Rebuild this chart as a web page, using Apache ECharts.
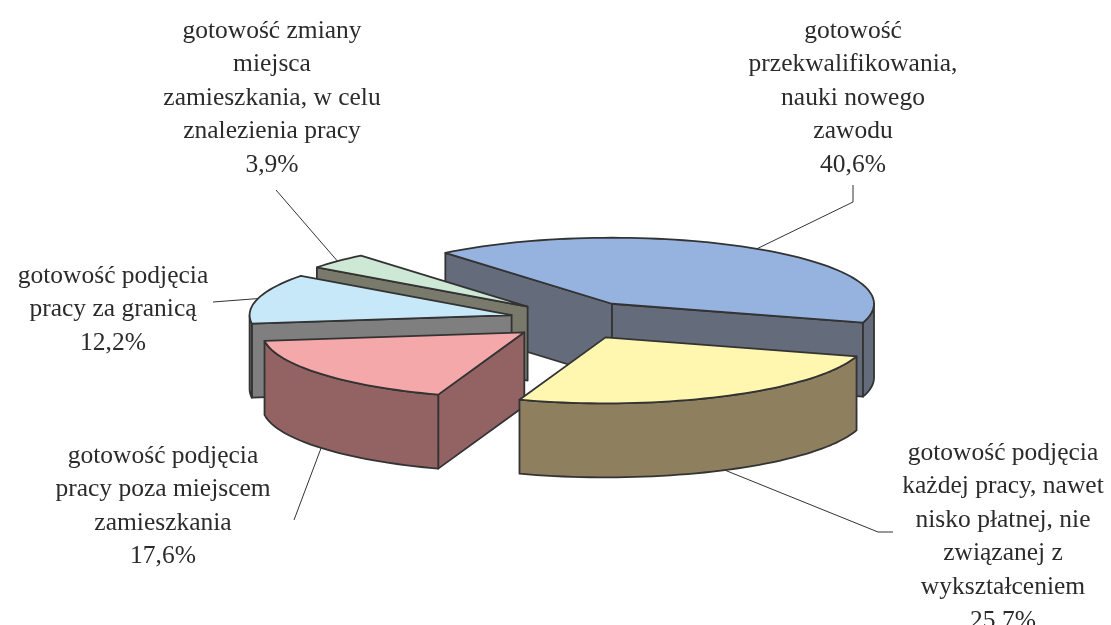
<!DOCTYPE html>
<html>
<head>
<meta charset="utf-8">
<script src="https://cdn.jsdelivr.net/npm/echarts@6/dist/echarts.min.js"></script>
<style>
html,body{margin:0;padding:0;background:#fff;}
#chart{width:1111px;height:625px;}
</style>
</head>
<body>
<div id="chart"></div>
<script>
// dane
var names = [
    'gotowość\nprzekwalifikowania,\nnauki nowego\nzawodu',
    'gotowość podjęcia\nkażdej pracy, nawet\nnisko płatnej, nie\nzwiązanej z\nwykształceniem',
    'gotowość podjęcia\npracy poza miejscem\nzamieszkania',
    'gotowość podjęcia\npracy za granicą',
    'gotowość zmiany\nmiejsca\nzamieszkania, w celu\nznalezienia pracy'
];
var values = [40.6, 25.7, 17.6, 12.2, 3.9];

// kolory
var topColors = ['#95b3de', '#fff7b0', '#f5a8aa', '#c7e8f8', '#cde8d5'];
var sideColors = ['#646b7b', '#8e7f5f', '#936363', '#7f7f7f', '#7a7a6c'];

// układ etykiet: [srodek x, gora y], linie odniesienia od strony etykiety
var labelPos = [[853, 14], [1003, 436], [163, 439], [113, 259], [272, 14]];
var leaderStart = [
    [[853, 185], [853, 202]],
    [[893, 532], [878, 532]],
    [[294, 520]],
    [[213, 302]],
    [[276, 190]]
];

// geometria "3D"
var cx = 575.5, cy = 320, R = 262, RY = 66, H = 74;
var EX = 66, EY = 19.5, START = 230.5;

var total = values.reduce(function(a, b){ return a + b; }, 0);
var rad = Math.PI / 180;

function rim(tip, a, dz){
    return [tip[0] + R * Math.cos(a * rad), tip[1] + RY * Math.sin(a * rad) + (dz || 0)];
}
function arcPts(tip, a0, a1, dz){
    var pts = [];
    var n = Math.max(2, Math.ceil((a1 - a0) / 2));
    for (var i = 0; i <= n; i++) {
        pts.push(rim(tip, a0 + (a1 - a0) * i / n, dz));
    }
    return pts;
}

function renderItem(params, api){
    var idx = params.dataIndex;
    var cum = 0;
    for (var i = 0; i < idx; i++) cum += values[i];
    var v = api.value(0);
    var a0 = START + 360 * cum / total;
    var a1 = a0 + 360 * v / total;
    var mid = (a0 + a1) / 2;
    var tip = [cx + EX * Math.cos(mid * rad), cy + EY * Math.sin(mid * rad)];
    var tipB = [tip[0], tip[1] + H];
    // kolejnosc rysowania: od tylu do przodu
    var z = Math.round((Math.sin(mid * rad) + 1) * 100);
    var line = {stroke: '#333', lineWidth: 1.8, lineJoin: 'round'};
    var kids = [];

    function face(points, color, k){
        kids.push({
            type: 'polygon', z2: z * 10 + k,
            shape: {points: points},
            style: Object.assign({fill: color}, line)
        });
    }
    // sciany boczne
    if (Math.cos(a0 * rad) < 0) {
        face([tip, rim(tip, a0), rim(tip, a0, H), tipB], sideColors[idx], 1);
    }
    if (Math.cos(a1 * rad) > 0) {
        face([tip, rim(tip, a1), rim(tip, a1, H), tipB], sideColors[idx], 1);
    }
    // sciana zewnetrzna (przod)
    [0, 360].forEach(function(k){
        var lo = Math.max(a0, k), hi = Math.min(a1, k + 180);
        if (hi > lo) {
            var up = arcPts(tip, lo, hi, 0);
            var dn = arcPts(tip, lo, hi, H).reverse();
            face(up.concat(dn), sideColors[idx], 2);
        }
    });
    // wierzch
    face([tip].concat(arcPts(tip, a0, a1, 0)), topColors[idx], 3);

    // linia odniesienia
    var anchor = rim(tip, mid, Math.sin(mid * rad) > 0 ? H : 0);
    kids.push({
        type: 'polyline', z2: 5000,
        shape: {points: leaderStart[idx].concat([anchor])},
        style: {stroke: '#333', lineWidth: 1, fill: null}
    });
    // etykieta
    kids.push({
        type: 'text', z2: 5001,
        style: {
            text: names[idx] + '\n' + v.toFixed(1).replace('.', ',') + '%',
            x: labelPos[idx][0], y: labelPos[idx][1],
            align: 'center', verticalAlign: 'top',
            fontFamily: '"Liberation Serif", "Times New Roman", serif',
            fontSize: 25.5, lineHeight: 33.6,
            fill: '#2b2b2b'
        }
    });
    return {type: 'group', children: kids};
}

var myChart = echarts.init(document.getElementById('chart'));
var option = {
    animation: false,
    backgroundColor: '#fff',
    series: [{
        type: 'custom',
        coordinateSystem: 'none',
        renderItem: renderItem,
        data: values.map(function(v){ return [v]; })
    }]
};
myChart.setOption(option);
</script>
</body>
</html>
